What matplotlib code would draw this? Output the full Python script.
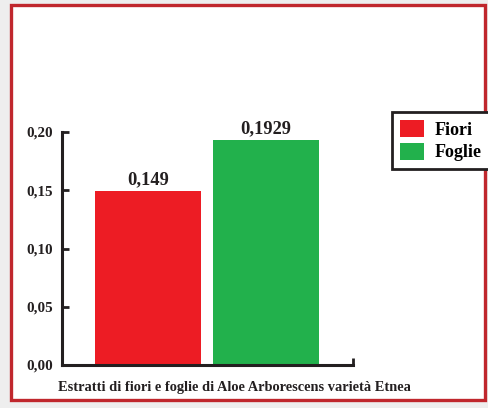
import matplotlib
matplotlib.use("Agg")
import matplotlib.pyplot as plt
from matplotlib.patches import Rectangle, Patch
from matplotlib.ticker import FuncFormatter

categories = ["Fiori", "Foglie"]
values = [0.149, 0.1929]
value_labels = ["0,149", "0,1929"]
colors = ["#ed1c24", "#22b14c"]
yticks = [0.0, 0.05, 0.10, 0.15, 0.20]
xlabel = "Estratti di fiori e foglie di Aloe Arborescens varietà Etnea"

plt.rcParams['font.family'] = ['Liberation Serif', 'DejaVu Serif']
plt.rcParams['font.weight'] = 'bold'

W, H = 489, 408
fig = plt.figure(figsize=(W/100, H/100), dpi=100)
fig.patch.set_facecolor("#eeeeee")

# white panel with red border
fig.patches.append(Rectangle((11/W, (H-400)/H), (485-11)/W, (400-5)/H,
                             transform=fig.transFigure, facecolor="white",
                             edgecolor="#c0272d", linewidth=2.4, zorder=-5))

ax = fig.add_axes([62/W, (H-365)/H, (353-62)/W, (365-132)/H])
ax.set_facecolor("none")
x = list(range(len(categories)))
bars = ax.bar(x, values, width=0.9, color=colors, zorder=2)
for xi, v, lab in zip(x, values, value_labels):
    ax.text(xi, v + 0.003, lab, ha="center", va="bottom", fontsize=13.3,
            fontweight="bold", color="#231f20", clip_on=False)

ax.set_xlim(-0.729, 1.737)
ax.set_ylim(0, 0.20)
ax.set_yticks(yticks)
ax.yaxis.set_major_formatter(FuncFormatter(lambda v, p: f"{v:.2f}".replace(".", ",")))
ax.tick_params(axis="y", direction="in", length=5, width=2, color="#231f20",
               labelsize=10.8, pad=6.5, labelcolor="#231f20")
ax.set_xticks([1.737])
ax.set_xticklabels([""])
ax.tick_params(axis="x", direction="in", length=5, width=2, color="#231f20")
for t in ax.get_yticklabels():
    t.set_fontweight("bold")
for s in ["top", "right"]:
    ax.spines[s].set_visible(False)
for s in ["left", "bottom"]:
    ax.spines[s].set_linewidth(2.2)
    ax.spines[s].set_color("#231f20")

fig.text(234/W, (H-387)/H, xlabel, ha="center", va="center", fontsize=10.4,
         fontweight="bold", color="#231f20")

handles = [Patch(facecolor=c, edgecolor="none") for c in colors]
leg = fig.legend(handles, categories, loc="upper left",
                 bbox_to_anchor=(392/W, (H-112)/H), frameon=True, fancybox=False,
                 framealpha=1,
                 prop={"family": "Liberation Serif", "weight": "bold", "size": 13},
                 handlelength=1.3, handleheight=1.1, handletextpad=0.6,
                 borderpad=0.45, labelspacing=0.2, borderaxespad=0)
leg.get_frame().set_edgecolor("#231f20")
leg.get_frame().set_linewidth(2)

fig.savefig("out.png", dpi=100)
